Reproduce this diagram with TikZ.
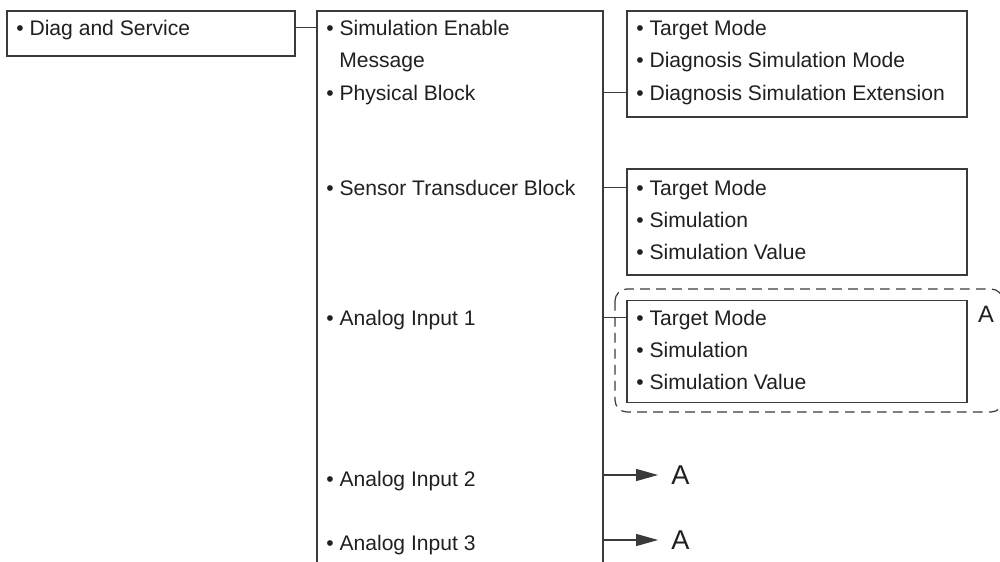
\documentclass[tikz,border=0pt]{standalone}
\usepackage{fontspec}
\setmainfont{Liberation Sans}
\usepackage{xcolor}
\usetikzlibrary{arrows.meta,calc,positioning}
\definecolor{inkline}{HTML}{3A3A3A}
\definecolor{inktext}{HTML}{231F20}
\tikzset{
  menubox/.style={draw=inkline, line width=0.7pt, fill=white, inner sep=0pt},
  menurow/.style={anchor=west, inner sep=0pt, text height=8.6pt, text depth=0pt, text=inktext, font=\fontsize{12}{14}\selectfont},
  reflabel/.style={inner sep=0pt, text height=11.1pt, text depth=0pt, text=inktext, font=\fontsize{15.5}{16}\selectfont},
  grplabel/.style={inner sep=0pt, text height=9.7pt, text depth=0pt, text=inktext, font=\fontsize{13.5}{14}\selectfont},
  menulink/.style={draw=inkline, line width=0.7pt},
  menuarrow/.style={-{Triangle[length=0.44cm,width=0.24cm]}, draw=inkline, line width=0.7pt},
  grpframe/.style={draw=inkline, line width=0.7pt, dash pattern=on 5.5pt off 3.6pt, rounded corners=0.24cm}
}

\begin{document}
\begin{tikzpicture}[x=0.02cm,y=-0.02cm]
  \useasboundingbox (0,0) rectangle (1000,561);
  \clip (0,0) rectangle (1000,561);

  % top level
  \node[menubox, minimum width=5.76cm, minimum height=0.9cm] (diag) at (151,33.5) {};
  \node[menurow] (diagtxt) at (16,27.5) {• Diag and Service};

  % menu column (open at the bottom)
  \coordinate (colTL) at (317,11);
  \coordinate (colTR) at (603,11);
  \coordinate (colBL) at (317,575);
  \coordinate (colBR) at (603,575);
  \draw[menulink] (colBL) -- (colTL) -- (colTR) -- (colBR);

  \node[menurow] (simena) at (326,27.5) {• Simulation Enable};
  \node[menurow] (simmsg) at (339,59.5) {Message};
  \node[menurow] (phys)   at (326,92.5) {• Physical Block};
  \node[menurow] (stb)    at (326,187.5) {• Sensor Transducer Block};
  \node[menurow] (ai1)    at (326,317.5) {• Analog Input 1};
  \node[menurow] (ai2)    at (326,478.5) {• Analog Input 2};
  \node[menurow] (ai3)    at (326,542.5) {• Analog Input 3};

  % physical block
  \node[menubox, minimum width=6.8cm, minimum height=2.12cm] (physbox) at (797,64) {};
  \node[menurow] (pbtgt) at (636,27.5) {• Target Mode};
  \node[menurow] (pbdsm) at (636,59.5) {• Diagnosis Simulation Mode};
  \node[menurow] (pbdse) at (636,92.5) {• Diagnosis Simulation Extension};

  % sensor transducer block
  \node[menubox, minimum width=6.8cm, minimum height=2.12cm] (stbbox) at (797,222) {};
  \node[menurow] (sttgt) at (636,187.5) {• Target Mode};
  \node[menurow] (stsim) at (636,219.5) {• Simulation};
  \node[menurow] (stval) at (636,251.5) {• Simulation Value};

  % analog input 1 (group A)
  \draw[grpframe] (615,289) rectangle (1003,412);
  \node[menubox, minimum width=6.8cm, minimum height=2.03cm] (ai1box) at (797,351.5) {};
  \node[menurow] (aitgt) at (636,317.5) {• Target Mode};
  \node[menurow] (aisim) at (636,349.5) {• Simulation};
  \node[menurow] (aival) at (636,381.5) {• Simulation Value};
  \node[grplabel] (grpA) at (986,314) {A};

  % references to group A
  \node[reflabel] (refA2) at (680.5,475) {A};
  \node[reflabel] (refA3) at (680.5,540) {A};

  % links
  \draw[menulink] (diagtxt -| diag.east) -- (diagtxt -| colTL);
  \draw[menulink] (phys -| colTR) -- (phys -| physbox.west);
  \draw[menulink] (stb -| colTR) -- (stb -| stbbox.west);
  \draw[menulink] (ai1 -| colTR) -- (ai1 -| ai1box.west);
  \draw[menuarrow, shorten >=0.26cm] (refA2 -| colTR) -- (refA2.west);
  \draw[menuarrow, shorten >=0.26cm] (refA3 -| colTR) -- (refA3.west);

\end{tikzpicture}
\end{document}
